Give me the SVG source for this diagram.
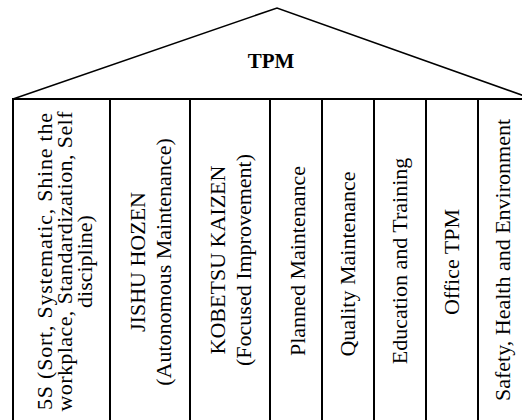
<svg xmlns="http://www.w3.org/2000/svg" width="522" height="420" viewBox="0 0 522 420">
<style>
.ln{fill:none;stroke:#000;stroke-width:2}
.roof{fill:none;stroke:#000;stroke-width:1.6;stroke-linejoin:miter}
.t{font-family:"Liberation Serif","Times New Roman",serif;font-size:22px;fill:#000;text-anchor:middle}
.tpm{font-family:"Liberation Serif","Times New Roman",serif;font-size:21px;font-weight:bold;fill:#000;text-anchor:middle}
</style>
<rect width="522" height="420" fill="#fff"/>
<g id="roof">
<polyline class="roof" points="13,99 277,8 533,99"/>
<text class="tpm" x="271" y="68">TPM</text>
</g>
<g id="beam">
<line class="ln" x1="13" y1="99" x2="530" y2="99"/>
</g>
<g id="pillar-5s">
<rect class="ln" x="13" y="99" width="97" height="330"/>
<g transform="translate(0,261.5) rotate(-90)">
<text class="t" x="0" y="52" textLength="297" lengthAdjust="spacing">5S (Sort, Systematic, Shine the</text>
<text class="t" x="0" y="72" textLength="300" lengthAdjust="spacing">workplace, Standardization, Self</text>
<text class="t" x="0" y="92">discipline)</text>
</g>
</g>
<g id="pillar-jishu-hozen">
<rect class="ln" x="110" y="99" width="80" height="330"/>
<g transform="translate(0,262) rotate(-90)">
<text class="t" x="0" y="145">JISHU HOZEN</text>
<text class="t" x="0" y="171">(Autonomous Maintenance)</text>
</g>
</g>
<g id="pillar-kobetsu-kaizen">
<rect class="ln" x="190" y="99" width="80" height="330"/>
<g transform="translate(0,260) rotate(-90)">
<text class="t" x="0" y="225">KOBETSU KAIZEN</text>
<text class="t" x="0" y="251">(Focused Improvement)</text>
</g>
</g>
<g id="pillar-planned">
<rect class="ln" x="270" y="99" width="52" height="330"/>
<text class="t" transform="translate(305,261) rotate(-90)">Planned Maintenance</text>
</g>
<g id="pillar-quality">
<rect class="ln" x="322" y="99" width="52" height="330"/>
<text class="t" transform="translate(355,264) rotate(-90)">Quality Maintenance</text>
</g>
<g id="pillar-education">
<rect class="ln" x="374" y="99" width="52" height="330"/>
<text class="t" transform="translate(407,261) rotate(-90)">Education and Training</text>
</g>
<g id="pillar-office">
<rect class="ln" x="426" y="99" width="52" height="330"/>
<text class="t" transform="translate(459,262) rotate(-90)">Office TPM</text>
</g>
<g id="pillar-safety">
<rect class="ln" x="478" y="99" width="50" height="330"/>
<text class="t" transform="translate(510,260) rotate(-90)">Safety, Health and Environment</text>
</g>
<g id="connectors"></g>
</svg>
